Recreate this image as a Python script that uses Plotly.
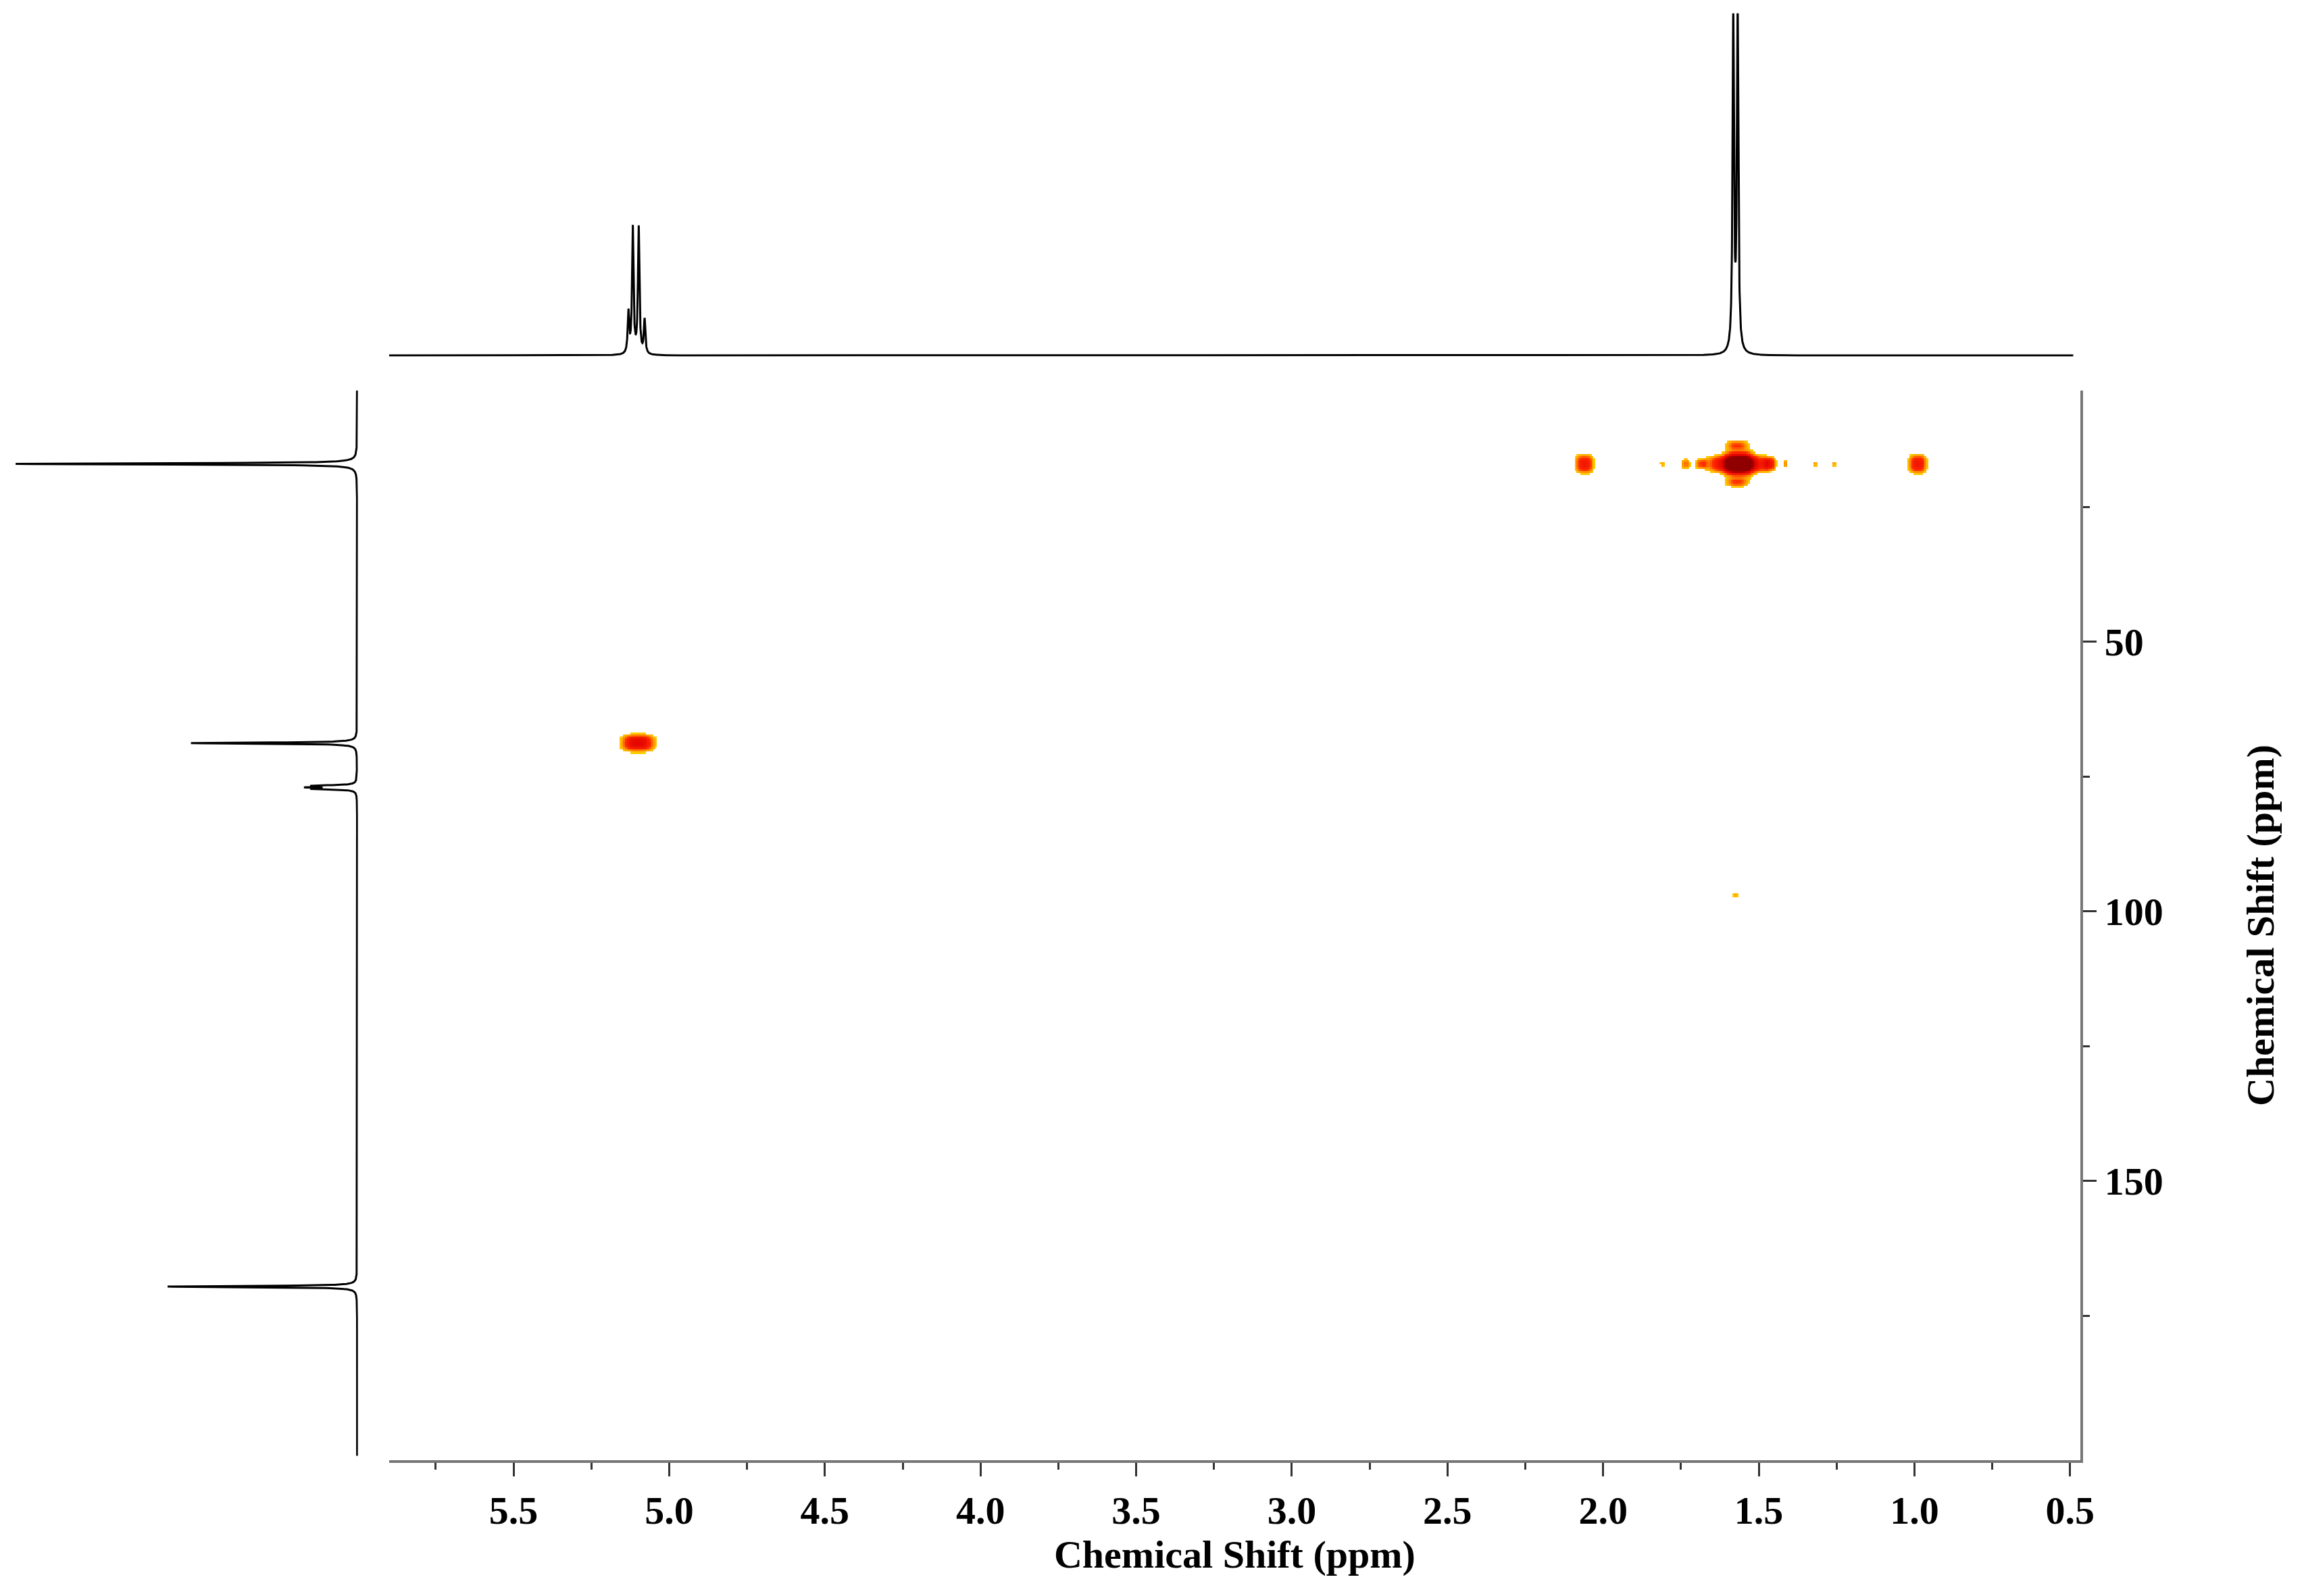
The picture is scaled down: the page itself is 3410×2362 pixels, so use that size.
import numpy as np
import plotly.graph_objects as go

# 1H projection peaks (ppm, relative height)
h_pos = [5.131, 5.117, 5.098, 5.079, 1.582, 1.568]
h_amp = [0.12, 0.37, 0.37, 0.10, 0.97, 1.0]
# 13C projection peaks (ppm, relative height)
c_pos = [17.0, 68.8, 76.7, 77.0, 77.3, 169.6]
c_amp = [225, 110, 26, 28, 26, 125]
# 2D cross peaks: (1H ppm, 13C ppm, intensity, 1H width, 13C width)
cp_h = [5.10, 2.06, 1.565, 0.99, 1.575, 1.735, 1.685, 1.81, 1.465, 1.415, 1.32, 1.26, 1.57, 1.57, 1.515, 1.615]
cp_c = [68.8, 17.0, 17.0, 17.0, 97.0, 17.0, 17.0, 17.0, 17.0, 17.0, 17.0, 17.0, 13.5, 20.5, 17.0, 17.0]
cp_i = [0.75, 0.6, 1.0, 0.6, 0.25, 0.35, 0.4, 0.25, 0.45, 0.3, 0.25, 0.25, 0.4, 0.4, 0.6, 0.6]
cp_wh = [0.05, 0.028, 0.045, 0.028, 0.008, 0.015, 0.02, 0.008, 0.02, 0.008, 0.008, 0.008, 0.035, 0.035, 0.05, 0.05]
cp_wc = [1.5, 1.7, 2.3, 1.7, 0.4, 0.9, 0.9, 0.5, 1.2, 0.7, 0.5, 0.5, 0.8, 0.8, 1.5, 1.5]

x_tick_vals = [5.5, 5.0, 4.5, 4.0, 3.5, 3.0, 2.5, 2.0, 1.5, 1.0, 0.5]
y_tick_vals = [50, 100, 150]

FONT = "Liberation Serif"

hx = np.linspace(5.90, 0.49, 12000)
hy = np.zeros_like(hx)
for p, a in zip(h_pos, h_amp):
    hy += a / (1 + ((hx - p) / 0.0028) ** 2)
cy_axis = np.linspace(1.0, 201.0, 8000)
cx = np.zeros_like(cy_axis)
for p, a in zip(c_pos, c_amp):
    cx += a / (1 + ((cy_axis - p) / 0.12) ** 2)

gx = np.linspace(5.90, 0.47, 900)
gy = np.linspace(3.4, 201.8, 500)
GX, GY = np.meshgrid(gx, gy)
Z = np.zeros_like(GX)
for h, c, i, wh, wc in zip(cp_h, cp_c, cp_i, cp_wh, cp_wc):
    Z += i * np.exp(-np.abs((GX - h) / wh) ** 3 - np.abs((GY - c) / wc) ** 3)

cs = [[0, "rgba(255,255,255,0)"], [0.12, "rgba(255,255,255,0)"], [0.121, "#ffd000"],
      [0.3, "#ff9000"], [0.45, "#ff2a00"], [0.8, "#e00000"], [1.0, "#900000"]]

fig = go.Figure()
fig.add_trace(go.Heatmap(x=gx, y=gy, z=Z, colorscale=cs, zmin=0, zmax=1,
                         showscale=False, xaxis="x", yaxis="y", hoverinfo="skip"))
fig.add_trace(go.Scatter(x=hx, y=hy, mode="lines", line=dict(color="black", width=3),
                         xaxis="x2", yaxis="y2", showlegend=False))
fig.add_trace(go.Scatter(x=cx, y=cy_axis, mode="lines", line=dict(color="black", width=3),
                         xaxis="x3", yaxis="y3", showlegend=False))

tickfont = dict(family=FONT, size=58, color="black")
fig.update_layout(
    width=3410, height=2362, margin=dict(l=0, r=0, t=0, b=0),
    paper_bgcolor="white", plot_bgcolor="rgba(0,0,0,0)", showlegend=False,
    xaxis=dict(domain=[0.1665, 0.9006], range=[5.90, 0.467], anchor="y",
               showline=True, linecolor="#777", linewidth=4,
               ticks="outside", ticklen=20, tickwidth=3, tickcolor="#333",
               tickvals=x_tick_vals, ticktext=[f"<b>{v:.1f}</b>" for v in x_tick_vals],
               minor=dict(tickvals=[5.75, 5.25, 4.75, 4.25, 3.75, 3.25, 2.75, 2.25, 1.75, 1.25, 0.75],
                          ticks="outside", ticklen=10, tickwidth=3, tickcolor="#333"),
               showgrid=False, zeroline=False, tickfont=tickfont,
               title=dict(text="<b>Chemical Shift (ppm)</b>", font=tickfont, standoff=0),
               automargin=False),
    yaxis=dict(domain=[0.0885, 0.7587], range=[201.8, 3.4], anchor="x", side="right",
               showline=True, linecolor="#777", linewidth=4,
               ticks="outside", ticklen=20, tickwidth=3, tickcolor="#333",
               tickvals=y_tick_vals, ticktext=[f"<b>{v}</b>" for v in y_tick_vals],
               minor=dict(tickvals=[25, 75, 125, 175], ticks="outside", ticklen=10, tickwidth=3, tickcolor="#333"),
               showgrid=False, zeroline=False, tickfont=tickfont,
               title=dict(text="<b>Chemical Shift (ppm)</b>", font=tickfont, standoff=125),
               automargin=False),
    xaxis2=dict(domain=[0.1665, 0.9006], range=[5.90, 0.467], anchor="y2", visible=False),
    yaxis2=dict(domain=[0.78, 0.995], range=[-0.003, 1.0], anchor="x2", visible=False),
    xaxis3=dict(domain=[0.0044, 0.153], range=[225, -0.5], anchor="y3", visible=False),
    yaxis3=dict(domain=[0.0885, 0.7587], range=[201.8, 3.4], anchor="x3", visible=False),
)
fig.write_html("out.html")
